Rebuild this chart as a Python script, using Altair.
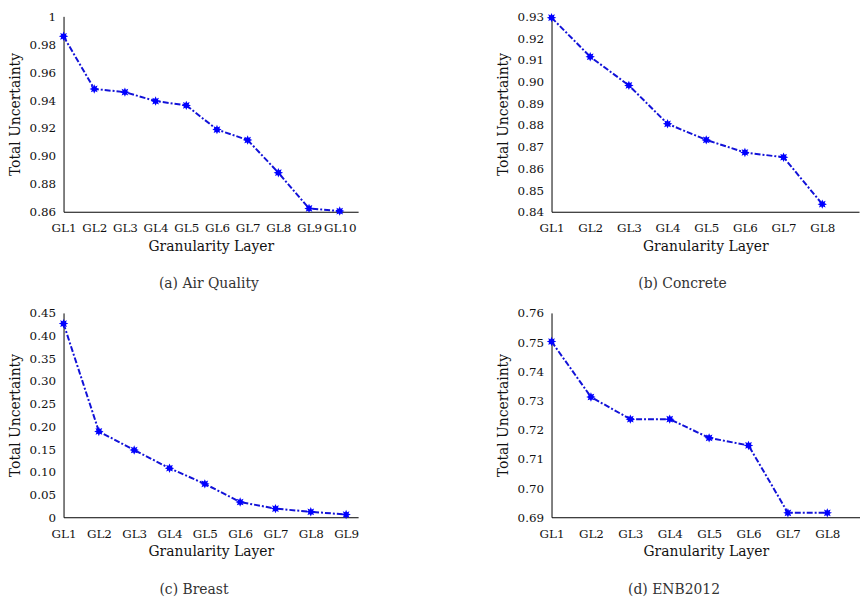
import math
import altair as alt
import pandas as pd

# ---- data ----
air_layers = ["GL1", "GL2", "GL3", "GL4", "GL5", "GL6", "GL7", "GL8", "GL9", "GL10"]
air_values = [0.9857, 0.9480, 0.9457, 0.9393, 0.9362, 0.9189, 0.9114, 0.8880, 0.8624, 0.8605]

concrete_layers = ["GL1", "GL2", "GL3", "GL4", "GL5", "GL6", "GL7", "GL8"]
concrete_values = [0.9294, 0.9114, 0.8982, 0.8805, 0.8731, 0.8673, 0.8651, 0.8435]

breast_layers = ["GL1", "GL2", "GL3", "GL4", "GL5", "GL6", "GL7", "GL8", "GL9"]
breast_values = [0.4265, 0.1890, 0.1480, 0.1080, 0.0735, 0.0335, 0.0190, 0.0120, 0.0060]

enb_layers = ["GL1", "GL2", "GL3", "GL4", "GL5", "GL6", "GL7", "GL8"]
enb_values = [0.7502, 0.7312, 0.7236, 0.7236, 0.7172, 0.7146, 0.6915, 0.6915]

FONT = "DejaVu Serif"
LINE = "#1212d8"
MARK = "#0000ff"

# eight-point asterisk-like star marker (unit coordinates)
pts = []
for k in range(16):
    r = 1.0 if k % 2 == 0 else 0.55
    a = math.pi * k / 8
    pts.append(f"{r*math.cos(a):.3f},{r*math.sin(a):.3f}")
STAR = "M" + "L".join(pts) + "Z"


def panel(layers, values, caption, ydom, ystep, xmax, w, h, cap_dx):
    df = pd.DataFrame({"layer": layers, "value": values,
                       "idx": list(range(1, len(layers) + 1))})
    n = round((ydom[1] - ydom[0]) / ystep)
    yvals = [round(ydom[0] + i * ystep, 4) for i in range(n + 1)]
    x = alt.X("idx:Q", scale=alt.Scale(domain=[1, xmax], nice=False, zero=False),
              axis=alt.Axis(values=list(range(1, len(layers) + 1)),
                            labelExpr="'GL' + datum.value",
                            title="Granularity  Layer", grid=False,
                            ticks=False, labelPadding=11, titlePadding=6,
                            labelFlush=False, labelOverlap=False))
    y = alt.Y("value:Q", scale=alt.Scale(domain=ydom, nice=False, zero=False),
              axis=alt.Axis(values=yvals,
                            labelExpr="datum.value == 1 ? '1' : datum.value == 0 ? '0' : format(datum.value, '.2f')",
                            title="Total  Uncertainty", grid=False,
                            ticks=False, labelPadding=8, titlePadding=7,
                            labelFlush=False, labelOverlap=False))
    base = alt.Chart(df).encode(x=x, y=y)
    line = base.mark_line(color=LINE, strokeWidth=2, strokeDash=[6, 2, 2, 2])
    pts_ = base.mark_point(shape=STAR, filled=True, color=MARK, size=90, opacity=1)
    return (line + pts_).properties(
        width=w, height=h,
        title=alt.TitleParams(caption, orient="bottom", anchor="middle",
                              frame="group", dx=cap_dx, offset=24,
                              font=FONT, fontSize=14, fontWeight="normal",
                              color="#333333"))


a = panel(air_layers, air_values, "(a) Air Quality", [0.86, 1.0], 0.02, 10.6, 297, 197, -2)
b = panel(concrete_layers, concrete_values, "(b) Concrete", [0.84, 0.93], 0.01, 8.95, 310, 197, -23)
c = panel(breast_layers, breast_values, "(c) Breast", [0.0, 0.45], 0.05, 9.34, 297, 206, -17)
d = panel(enb_layers, enb_values, "(d) ENB2012", [0.69, 0.76], 0.01, 8.83, 311, 206, -32)

chart = alt.concat(a, b, c, d, columns=2, spacing={"row": 16, "column": 138}).properties(
    padding={"left": 0, "top": 0, "right": 0, "bottom": 0}
).configure_view(stroke=None).configure_axis(
    labelFont=FONT, labelFontSize=12, labelColor="#111111",
    titleFont=FONT, titleFontSize=14, titleFontWeight="normal", titleColor="#111111",
    domainColor="#000000", domainWidth=1,
)

chart.save("out.html", embed_options={"renderer": "svg", "actions": False})
